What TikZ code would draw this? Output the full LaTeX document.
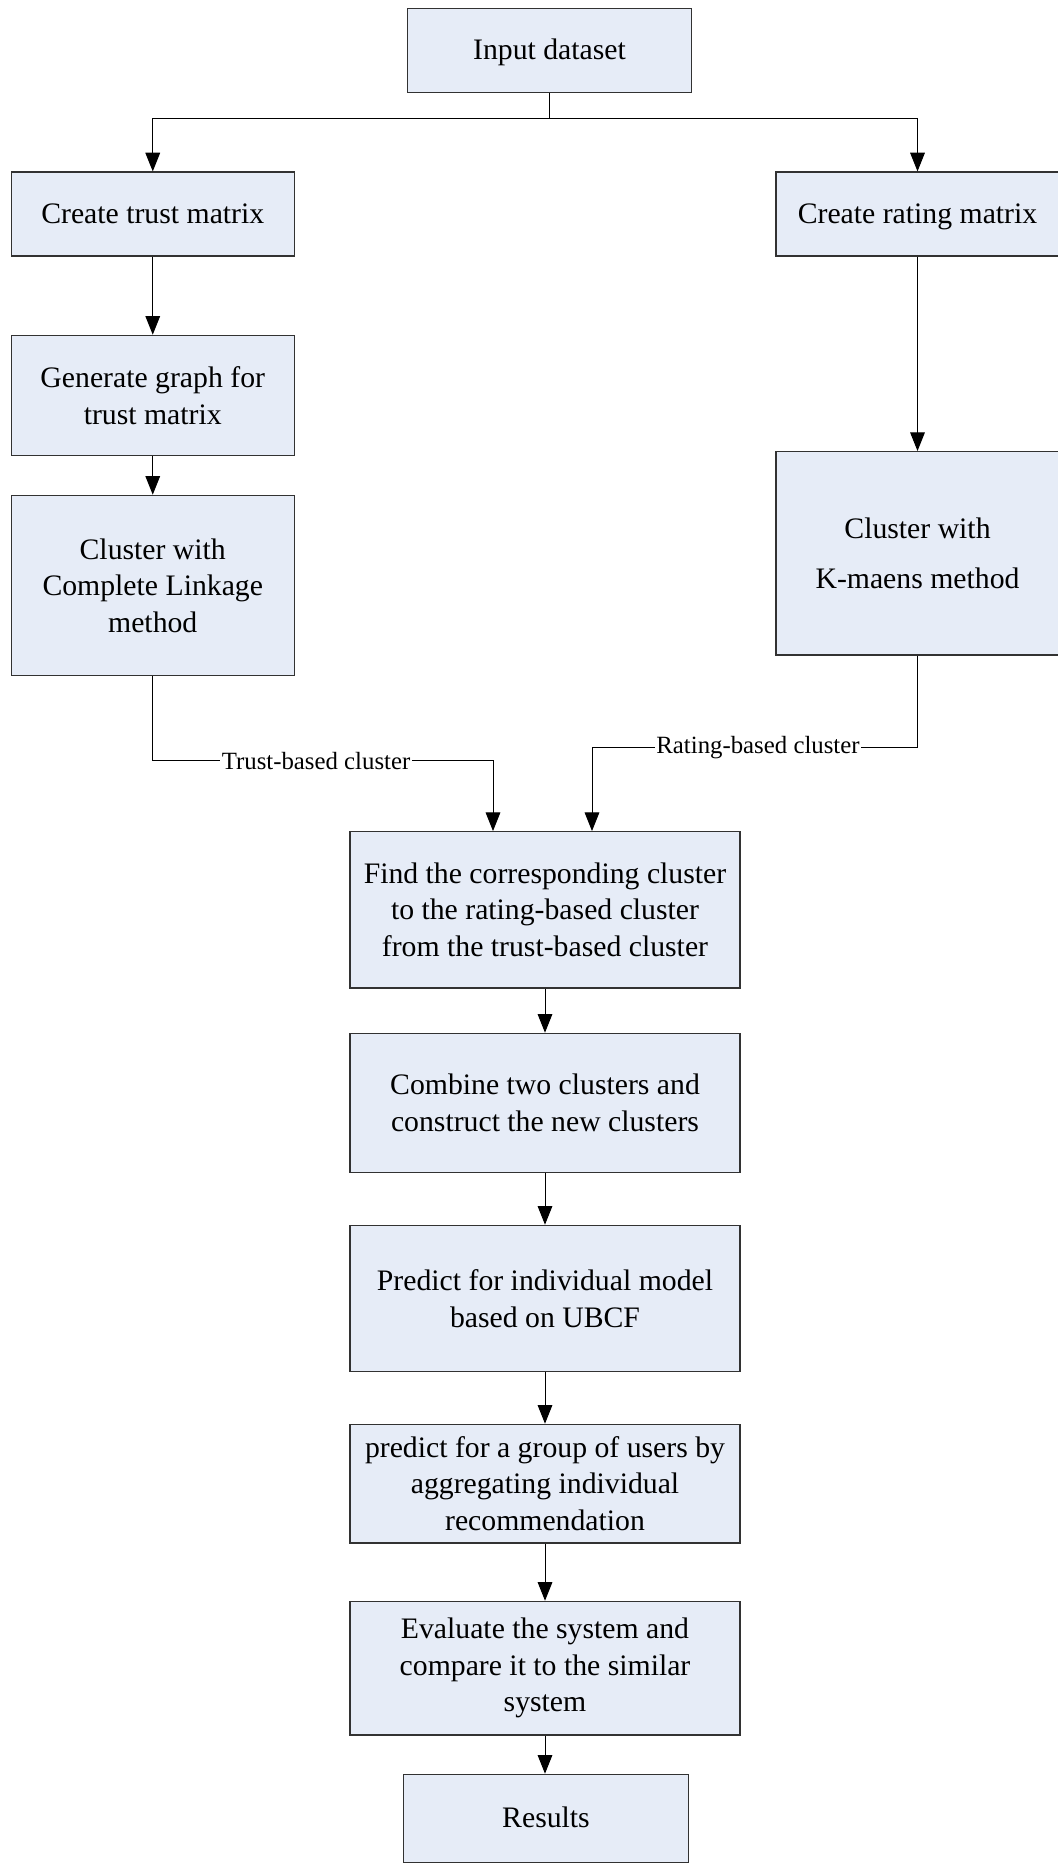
\documentclass[tikz,border=0pt]{standalone}
\usepackage{fontspec}
\setmainfont{Liberation Serif}
\usepackage{tikz}
\usetikzlibrary{arrows.meta}

\definecolor{boxfill}{RGB}{230,236,247}
\definecolor{boxline}{RGB}{50,50,50}

\begin{document}
\begin{tikzpicture}[x=0.75pt,y=0.75pt,yscale=-1,xscale=1,
  box/.style={draw=boxline,fill=boxfill,line width=0.9pt,align=center,inner sep=2pt,
    font=\fontsize{22.3}{27.5}\selectfont},
  oneline/.style={text height=15.5pt,text depth=1.5pt},
  sidebox/.style={box,minimum width=212.25pt},
  midbox/.style={box,minimum width=292.5pt},
  endbox/.style={box,minimum width=213.5pt},
  arr/.style={line width=0.75pt,-{Triangle[length=14pt,width=11pt]}},
  lbl/.style={fill=white,inner sep=1pt,font=\fontsize{18.6}{20}\selectfont}]
\useasboundingbox (0,0) rectangle (1057,1865);

%Boxes
\node (input) [endbox,oneline,minimum height=63pt] at (549.5,50.3) {Input dataset};
\node (trust) [sidebox,oneline,minimum height=63pt] at (152.75,214) {Create trust matrix};
\node (rating) [sidebox,oneline,minimum height=63pt] at (917.5,214) {Create rating matrix};
\node (graph) [sidebox,minimum height=90.3pt] at (152.75,395.5) {Generate graph for\\trust matrix};
\node (linkage) [sidebox,minimum height=135.3pt] at (152.75,585.5) {Cluster with\\Complete Linkage\\method};
\node (kmeans) [sidebox,minimum height=152.5pt,font=\fontsize{22.3}{38}\selectfont] at (917.5,553.3) {Cluster with\\K-maens method};
\node (find) [midbox,minimum height=117.2pt] at (545,909.8) {Find the corresponding cluster\\to the rating-based cluster\\from the trust-based cluster};
\node (combine) [midbox,minimum height=104.25pt] at (545,1102.8) {Combine two clusters and\\construct the new clusters};
\node (individual) [midbox,minimum height=109.8pt] at (545,1298.5) {Predict for individual model\\based on UBCF};
\node (group) [midbox,minimum height=89pt] at (545,1483.6) {predict for a group of users by\\aggregating individual\\recommendation};
\node (evaluate) [midbox,minimum height=100.3pt] at (545,1668.2) {Evaluate the system and\\compare it to the similar\\system};
\node (results) [endbox,oneline,minimum height=66.3pt] at (546,1818.5) {Results};

%Split below input
\coordinate (split) at (549.5,119);
\draw [line width=0.75pt] (input.south) -- (split);
\draw [arr] (split) -| (trust.north);
\draw [arr] (split) -| (rating.north);

%Left column
\draw [arr] (trust) -- (graph);
\draw [arr] (graph) -- (linkage);

%Right column
\draw [arr] (rating) -- (kmeans);

%Into find
\coordinate (tbend) at (493,760.7);
\coordinate (rbend) at (592,747.3);
\draw [arr] (linkage.south) |- node [lbl,pos=0.74] {Trust-based cluster} (tbend) -- (tbend |- find.north);
\draw [arr] (kmeans.south) |- node [lbl,pos=0.745] {Rating-based cluster} (rbend) -- (rbend |- find.north);

%Middle column
\draw [arr] (find) -- (combine);
\draw [arr] (combine) -- (individual);
\draw [arr] (individual) -- (group);
\draw [arr] (group) -- (evaluate);
\draw [arr] (evaluate.south) -- (evaluate.south |- results.north);

\end{tikzpicture}
\end{document}
